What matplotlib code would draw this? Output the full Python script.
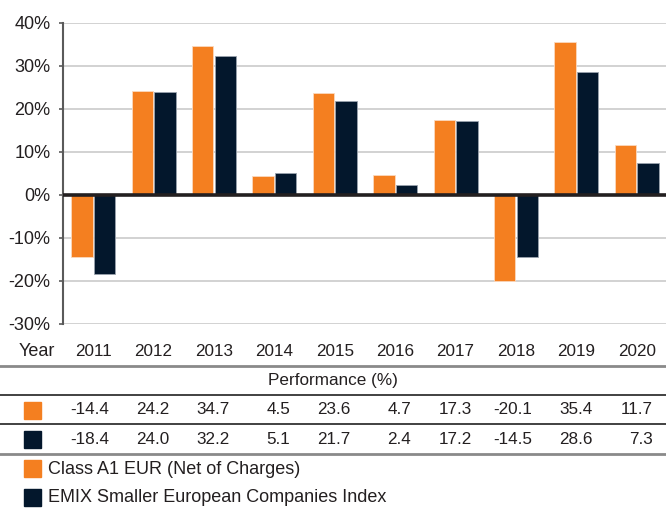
import matplotlib
matplotlib.use("Agg")
import matplotlib.pyplot as plt
from matplotlib.patches import Rectangle
from matplotlib.lines import Line2D
import numpy as np

plt.rcParams['font.family'] = ['Liberation Sans', 'DejaVu Sans']

years = ["2011", "2012", "2013", "2014", "2015", "2016", "2017", "2018", "2019", "2020"]
fund = [-14.4, 24.2, 34.7, 4.5, 23.6, 4.7, 17.3, -20.1, 35.4, 11.7]
index = [-18.4, 24.0, 32.2, 5.1, 21.7, 2.4, 17.2, -14.5, 28.6, 7.3]
fund_label = "Class A1 EUR (Net of Charges)"
index_label = "EMIX Smaller European Companies Index"
yticks = [-30, -20, -10, 0, 10, 20, 30, 40]

ORANGE = "#F47F20"
NAVY = "#03172C"
TXT = "#231F20"

W, H = 666, 508
fig = plt.figure(figsize=(W / 100, H / 100), dpi=100)

def fx(px):
    return px / W

def fy(py):
    return 1 - py / H

ax_left, ax_right, ax_top, ax_bot = 63, 667, 22.7, 324
ax = fig.add_axes([fx(ax_left), fy(ax_bot), fx(ax_right - ax_left), (ax_bot - ax_top) / H])
x = np.arange(len(years))
bw = 0.355
ax.bar(x - bw / 2 - 0.01, fund, bw, color=ORANGE, edgecolor="#FBD9BE", linewidth=0.6, zorder=3)
ax.bar(x + bw / 2 + 0.01, index, bw, color=NAVY, edgecolor="#9AA3AE", linewidth=0.6, zorder=3)
ax.set_xlim(-0.5, len(years) - 0.5)
ax.set_ylim(-30, 40)
ax.set_yticks(yticks)
ax.set_yticklabels([f"{t}%" for t in yticks], fontsize=13, color=TXT)
ax.set_xticks([])
ax.grid(axis="y", color="#CFCFCF", linewidth=1.3, zorder=0)
ax.axhline(0, color=TXT, linewidth=2.6, zorder=4)
for s in ["top", "right", "bottom"]:
    ax.spines[s].set_visible(False)
ax.spines["left"].set_color("#5A5A5A")
ax.spines["left"].set_linewidth(1.5)
ax.tick_params(axis="y", length=3, width=1.2, color="#5A5A5A", pad=6)

# table
def xc(i):
    return ax_left + (i + 0.5) * (ax_right - ax_left) / len(years)

fs = 12.3
fw = 13
fig.text(fx(19), fy(352), "Year", fontsize=fw, color=TXT, ha="left", va="center")
for i, yr in enumerate(years):
    fig.text(fx(xc(i)), fy(352), yr, fontsize=fs, color=TXT, ha="center", va="center")
fig.text(0.5, fy(381), "Performance (%)", fontsize=12.3, color=TXT, ha="center", va="center")
for i in range(len(years)):
    fig.text(fx(xc(i) + 16), fy(410), f"{fund[i]:.1f}", fontsize=fs, color=TXT, ha="right", va="center")
    fig.text(fx(xc(i) + 16), fy(440), f"{index[i]:.1f}", fontsize=fs, color=TXT, ha="right", va="center")

for py, col, lw in [(366, "#8A8A8A", 2.0), (395, "#333333", 1.3), (424, "#333333", 1.3), (454, "#8A8A8A", 2.0)]:
    fig.add_artist(Line2D([0, 1], [fy(py), fy(py)], color=col, linewidth=lw, transform=fig.transFigure))

def square(px0, py0, w, h, col):
    fig.add_artist(Rectangle((fx(px0), fy(py0 + h)), w / W, h / H, color=col, transform=fig.transFigure))

square(24, 402, 17, 17, ORANGE)
square(24, 431, 17, 17, NAVY)
square(24, 460, 17, 17, ORANGE)
square(24, 489, 17, 17, NAVY)
fig.text(fx(48), fy(469), fund_label, fontsize=fw, color=TXT, ha="left", va="center")
fig.text(fx(48), fy(498), index_label, fontsize=fw, color=TXT, ha="left", va="center")

fig.savefig("out.png", dpi=100)
